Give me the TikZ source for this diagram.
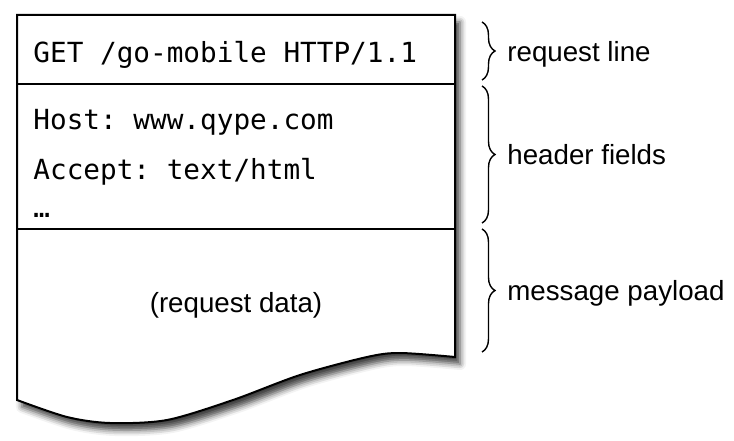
\documentclass[tikz,border=0pt]{standalone}
\usepackage{fontspec}
\setmainfont{Liberation Sans}
\setmonofont{DejaVu Sans Mono}
\usetikzlibrary{decorations.pathreplacing,shadows.blur}

\begin{document}
\begin{tikzpicture}[x=0.5pt,y=0.5pt,
    fieldtext/.style={anchor=base west,inner sep=0pt,font=\fontsize{13.85}{16}\selectfont\ttfamily},
    partname/.style={anchor=base west,inner sep=0pt,font=\fontsize{13.85}{16}\selectfont},
    part/.style={decorate,decoration={brace,amplitude=6.5pt},line width=0.7pt}]
  \useasboundingbox (0,0) rectangle (734,440);
  % the sheet
  \path[fill=white,draw=black,line width=1pt,
        blur shadow={shadow xshift=2.5pt,shadow yshift=-3.5pt,shadow blur radius=3pt,shadow opacity=75}]
    (17,425) -- (455,425) -- plot[smooth] coordinates
      {(455,83) (400,87) (367,83) (300,65) (233,40) (167,20) (110,17) (67,23) (17,40)} -- cycle;
  \draw[line width=1pt] (17,356) -- (455,356);
  \draw[line width=1pt] (17,211) -- (455,211);
  % fields
  \node[fieldtext] (get) at (33,377) {GET /go-mobile HTTP/1.1};
  \node[fieldtext] (host) at (33,310) {Host: www.qype.com};
  \node[fieldtext] (accept) at (33,260) {Accept: text/html};
  \node[fieldtext] (more) at (33,222) {…};
  \node[partname,anchor=base] (data) at (236,128) {(request data)};
  % braces
  \coordinate (rl-top) at (482,418);
  \coordinate (rl-bot) at (482,360);
  \coordinate (hf-top) at (482,354);
  \coordinate (hf-bot) at (482,217);
  \coordinate (mp-top) at (482,211);
  \coordinate (mp-bot) at (482,88);
  \draw[part] (rl-top) -- (rl-bot);
  \draw[part] (hf-top) -- (hf-bot);
  \draw[part] (mp-top) -- (mp-bot);
  \node[partname] (rl) at (507,378) {request line};
  \node[partname] (hf) at (507,276) {header fields};
  \node[partname] (mp) at (507,140) {message payload};
\end{tikzpicture}
\end{document}
